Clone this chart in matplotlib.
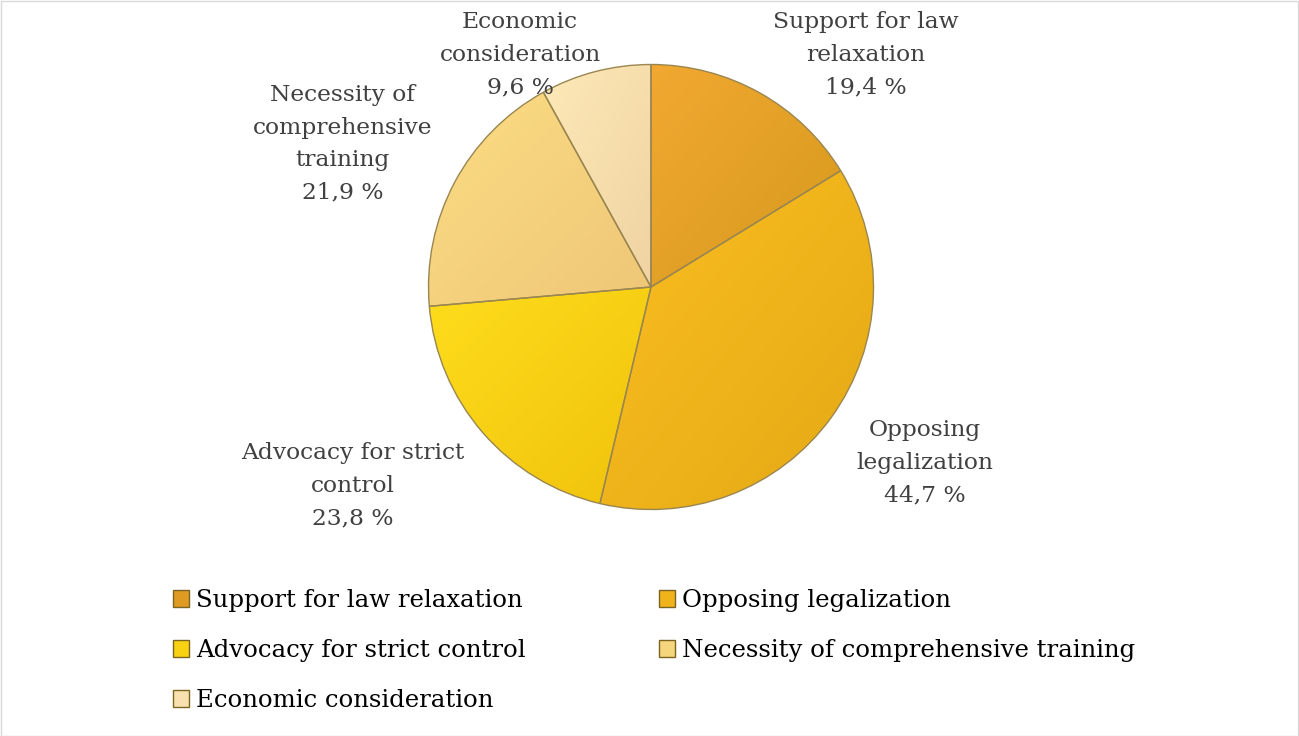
import numpy as np
import matplotlib
matplotlib.use('Agg')
import matplotlib.pyplot as plt
from matplotlib.patches import Patch, Rectangle
from matplotlib.colors import LinearSegmentedColormap

categories = ['Support for law relaxation', 'Opposing legalization',
              'Advocacy for strict control', 'Necessity of comprehensive training',
              'Economic consideration']
values = [19.4, 44.7, 23.8, 21.9, 9.6]
label_texts = ['Support for law\nrelaxation', 'Opposing\nlegalization',
               'Advocacy for strict\ncontrol', 'Necessity of\ncomprehensive\ntraining',
               'Economic\nconsideration']
# gradient colours (light, dark) for every slice
grad_colors = [('#F2A832', '#D59A1C'), ('#FBBF22', '#E4A914'),
               ('#FEDD1C', '#F0C20C'), ('#FCDD84', '#EEC677'),
               ('#FDE9B7', '#F0D3A2')]
legend_colors = ['#DE9A22', '#F0B41A', '#F8D212', '#F6D67C', '#F8E1AE']

plt.rcParams['font.family'] = ['DejaVu Serif']

W, H = 1299, 736
fig = plt.figure(figsize=(W / 100, H / 100), dpi=100)

cx, cy, r = 651, 287, 222.5
ax = fig.add_axes([(cx - r) / W, (H - cy - r) / H, 2 * r / W, 2 * r / H])
wedges, _ = ax.pie(values, startangle=90, counterclock=False, radius=1,
                   colors=['none'] * 5,
                   wedgeprops=dict(edgecolor='#9A8650', linewidth=1.0, zorder=3))
ax.axis('off')

grad = np.linspace(0, 1, 256).reshape(1, -1)
grad = (grad + grad.T) / 2
for w, (c1, c2) in zip(wedges, grad_colors):
    ext = w.get_path().get_extents()
    cmap = LinearSegmentedColormap.from_list('g', [c1, c2])
    im = ax.imshow(grad, cmap=cmap, extent=[ext.x0, ext.x1, ext.y0, ext.y1],
                   origin='upper', zorder=2, aspect='auto', interpolation='bilinear')
    im.set_clip_path(w)
ax.set_xlim(-1.0, 1.0)
ax.set_ylim(-1.0, 1.0)
ax.set_aspect('auto')
for w in wedges:
    w.set_clip_on(False)

# data labels (pixel positions of text centres)
label_pos = [(866, 55), (925, 463), (353, 486), (343, 144), (520, 55)]
for txt, v, (x, y) in zip(label_texts, values, label_pos):
    s = txt + '\n' + ('%.1f %%' % v).replace('.', ',')
    fig.text(x / W, 1 - y / H, s, ha='center', va='center', fontsize=16.8,
             color='#404040', linespacing=1.62, multialignment='center')

# legend, row-major order
order = [0, 2, 4, 1, 3]
handles = [Patch(facecolor=legend_colors[i], edgecolor='#7A6420', linewidth=1.0)
           for i in order]
labels = [categories[i] for i in order]
fig.legend(handles, labels, ncol=2, loc='upper left',
           bbox_to_anchor=(173 / W, 1 - 589 / H), frameon=False, fontsize=17.6,
           handlelength=0.66, handleheight=0.66, handletextpad=0.29,
           labelspacing=1.11, columnspacing=5.45, borderpad=0, borderaxespad=0)

fig.patches.append(Rectangle((0.5 / W, 0.5 / H), 1 - 1.5 / W, 1 - 1.5 / H,
                             transform=fig.transFigure, fill=False,
                             edgecolor='#D9D9D9', linewidth=1))

fig.savefig('out.png', dpi=100, facecolor='white')
